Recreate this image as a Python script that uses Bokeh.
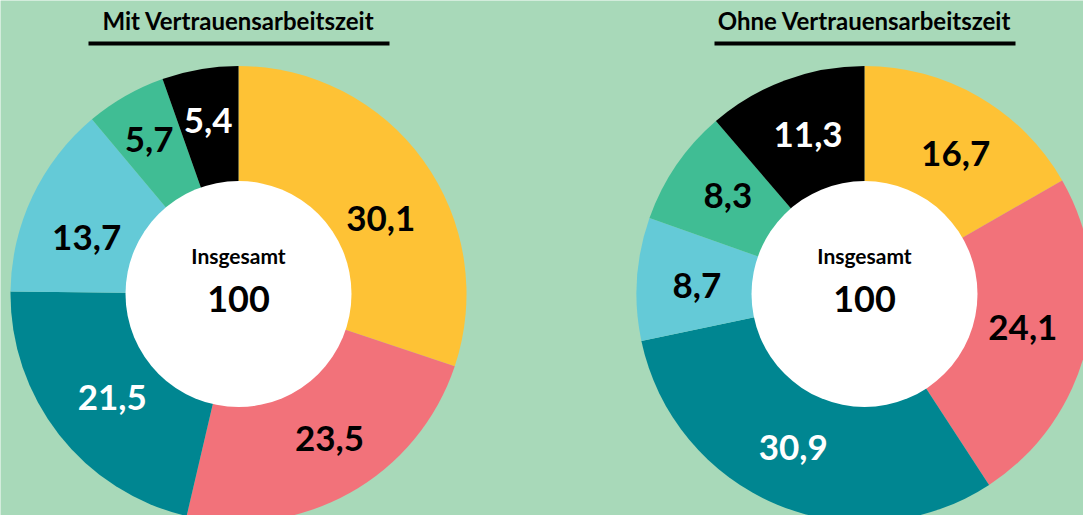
import math
from bokeh.plotting import figure
from bokeh.models import Range1d, ColumnDataSource
from bokeh.core.properties import value
from bokeh.embed import file_html
from bokeh.resources import INLINE

# ---- data ----
categories = ["A", "B", "C", "D", "E", "F"]
mit_values = [30.1, 23.5, 21.5, 13.7, 5.7, 5.4]
ohne_values = [16.7, 24.1, 30.9, 8.7, 8.3, 11.3]
titles = ["Mit Vertrauensarbeitszeit", "Ohne Vertrauensarbeitszeit"]
center_label = "Insgesamt"
center_value = "100"

# ---- style ----
colors = ["#fec235", "#f2727a", "#008691", "#64cad7", "#40bd94", "#000000"]
label_colors = ["#000000", "#000000", "#ffffff", "#000000", "#000000", "#ffffff"]
# small label nudges in screen pixels (dx right, dy down)
mit_nudge = [(6, 23), (9, -2), (6, 0), (0, 15), (-6, -9), (-2, -8)]
ohne_nudge = [(7, 5), (-5, -6), (-7, -2), (0, 3), (2, -4), (2, -2)]
BG = "#a8d9b9"
FONT = value("Lato")

W, H = 1083, 515
PAGE_H = 515

def ty(y_page):
    return PAGE_H - y_page

p = figure(width=W, height=H, output_backend="svg", toolbar_location=None,
           x_range=Range1d(0, W), y_range=Range1d(0, H),
           min_border=0, background_fill_color=BG, border_fill_color=BG,
           outline_line_color=None)
p.axis.visible = False
p.grid.visible = False

R_OUT = 228
R_IN = 113
R_LAB = 168
centers = [(238, ty(293.5)), (864, ty(293.5))]

for (cx, cy), vals, title, nudge in zip(centers, [mit_values, ohne_values], titles,
                                        [mit_nudge, ohne_nudge]):
    total = sum(vals)
    starts, ends, lx, ly = [], [], [], []
    cum = 0.0
    for v, (ndx, ndy) in zip(vals, nudge):
        a0 = math.pi / 2 - 2 * math.pi * cum / total
        cum += v
        a1 = math.pi / 2 - 2 * math.pi * cum / total
        starts.append(a1)
        ends.append(a0)
        mid = (a0 + a1) / 2
        lx.append(cx + R_LAB * math.cos(mid) + ndx)
        ly.append(cy + R_LAB * math.sin(mid) - ndy)
    src = ColumnDataSource(dict(start=starts, end=ends, color=colors,
                                x=lx, y=ly,
                                text=[f"{v:.1f}".replace(".", ",") for v in vals],
                                tcolor=label_colors))
    p.wedge(x=cx, y=cy, radius=R_OUT, start_angle="start", end_angle="end",
            fill_color="color", line_color=None, source=src)
    p.circle(x=[cx], y=[cy], radius=R_IN, fill_color="white", line_color=None)
    p.text(x="x", y="y", text="text", text_color="tcolor", source=src,
           text_font=FONT, text_font_style="bold", text_font_size="35px",
           text_align="center", text_baseline="middle")
    p.text(x=[cx], y=[cy + 39], text=[center_label], text_font=FONT,
           text_font_style="bold", text_font_size="21px", text_color="#000000",
           text_align="center", text_baseline="middle")
    p.text(x=[cx], y=[cy - 5], text=[center_value], text_font=FONT,
           text_font_style="bold", text_font_size="36px", text_color="#000000",
           text_align="center", text_baseline="middle")
    # title + underline
    p.text(x=[cx], y=[ty(19.5)], text=[title], text_font=FONT,
           text_font_style="bold", text_font_size="24px", text_color="#000000",
           text_align="center", text_baseline="middle")
    p.segment(x0=[cx - 150], y0=[ty(43)], x1=[cx + 151], y1=[ty(43)],
              line_color="#000000", line_width=4)

open("out.html", "w").write(file_html(p, INLINE))
